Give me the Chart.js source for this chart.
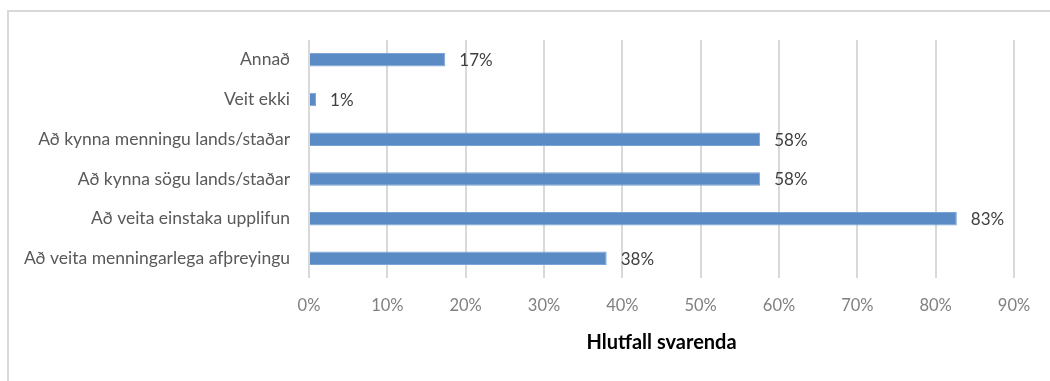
<!DOCTYPE html>
<html>
<head>
<meta charset="utf-8">
<script src="https://cdn.jsdelivr.net/npm/chart.js@4/dist/chart.umd.min.js"></script>
<style>
html,body{margin:0;padding:0;background:#fff;}
#wrap{width:1050px;height:381px;position:relative;}
</style>
</head>
<body>
<div id="wrap"><canvas id="c" width="1050" height="381"></canvas></div>
<script>
const categories = [
  "Annað",
  "Veit ekki",
  "Að kynna menningu lands/staðar",
  "Að kynna sögu lands/staðar",
  "Að veita einstaka upplifun",
  "Að veita menningarlega afþreyingu"
];
const values = [17.4, 0.9, 57.6, 57.6, 82.7, 38.0];
const valueLabels = ["17%", "1%", "58%", "58%", "83%", "38%"];
const xTicks = [0, 10, 20, 30, 40, 50, 60, 70, 80, 90];
const axisTitle = "Hlutfall svarenda";

const FONT = "Lato, 'Liberation Sans', sans-serif";

const framePlugin = {
  id: 'frame',
  beforeDraw(chart) {
    const ctx = chart.ctx;
    ctx.save();
    ctx.fillStyle = '#fff';
    ctx.fillRect(0, 0, chart.width, chart.height);
    ctx.strokeStyle = '#d9d9d9';
    ctx.lineWidth = 2;
    ctx.beginPath();
    ctx.moveTo(8, 381);
    ctx.lineTo(8, 11);
    ctx.lineTo(1050, 11);
    ctx.stroke();
    ctx.restore();
  }
};

const labelPlugin = {
  id: 'vlabels',
  afterDatasetsDraw(chart) {
    const ctx = chart.ctx;
    const meta = chart.getDatasetMeta(0);
    ctx.save();
    ctx.font = "17px " + FONT;
    ctx.fillStyle = '#404040';
    ctx.textAlign = 'left';
    ctx.textBaseline = 'middle';
    meta.data.forEach((bar, i) => {
      ctx.fillText(valueLabels[i], bar.x + 14, bar.y + 1);
    });
    ctx.restore();
  }
};

new Chart(document.getElementById('c'), {
  type: 'bar',
  data: {
    labels: categories,
    datasets: [{
      data: values,
      backgroundColor: '#5b8bc5',
      borderColor: '#7aa3d6',
      borderWidth: 1,
      categoryPercentage: 1,
      barPercentage: 0.34
    }]
  },
  options: {
    indexAxis: 'y',
    responsive: false,
    animation: false,
    devicePixelRatio: 1,
    layout: { padding: { top: 40, right: 36, left: 0, bottom: 22 } },
    plugins: {
      legend: { display: false },
      tooltip: { enabled: false }
    },
    scales: {
      x: {
        min: 0,
        max: 90,
        afterBuildTicks(scale) { scale.ticks = xTicks.map(v => ({ value: v })); },
        grid: { color: '#d9d9d9', lineWidth: 2, drawTicks: false },
        border: { display: false },
        ticks: {
          padding: 18,
          color: '#808080',
          font: { family: FONT, size: 16.5 },
          callback: v => v + '%'
        },
        title: {
          display: true,
          text: axisTitle,
          color: '#000',
          font: { family: FONT, size: 20, weight: 'bold' },
          padding: { top: -3, bottom: 4 }
        }
      },
      y: {
        afterFit(scale) { scale.width = 309; },
        grid: { display: false, drawTicks: false },
        border: { display: false },
        ticks: {
          padding: 19,
          color: '#595959',
          font: { family: FONT, size: 17.5 }
        }
      }
    }
  },
  plugins: [framePlugin, labelPlugin]
});
</script>
</body>
</html>
